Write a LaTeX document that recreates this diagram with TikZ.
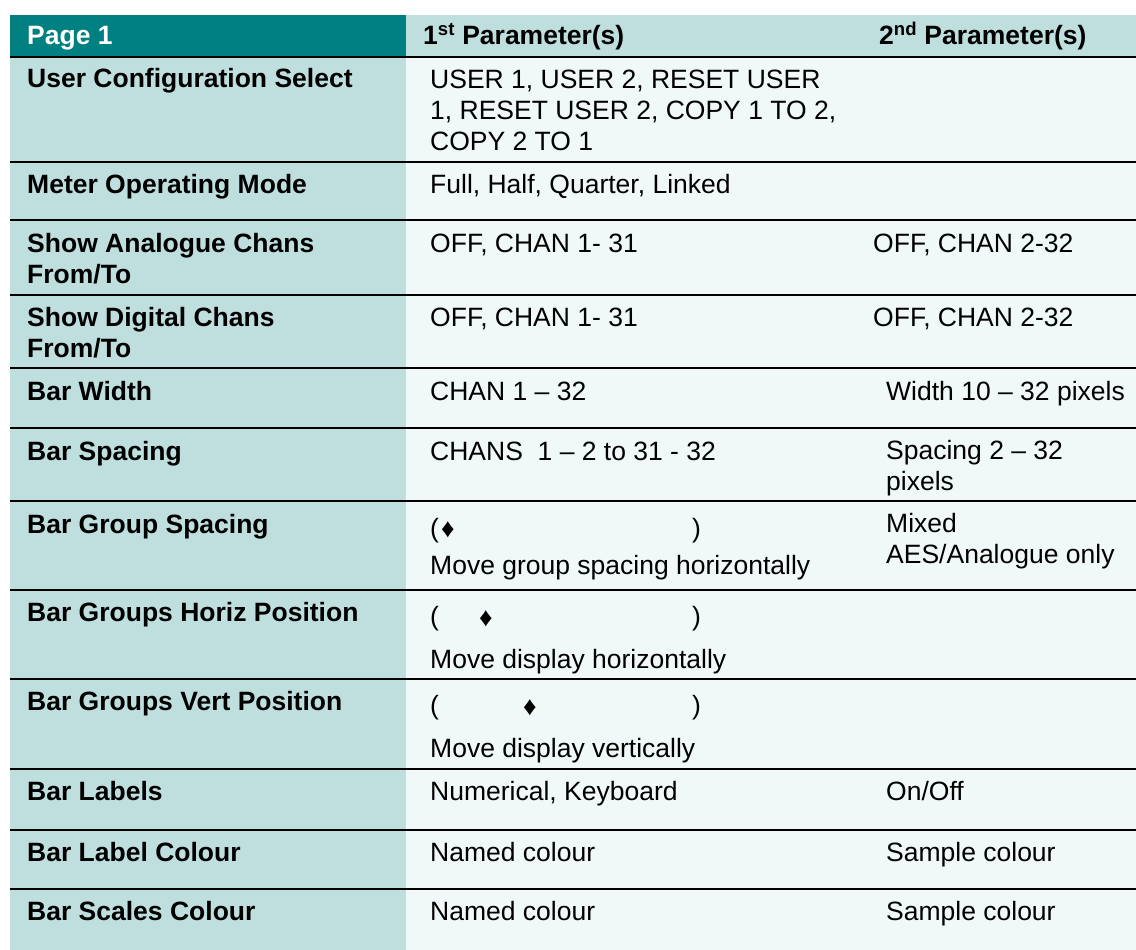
\documentclass[tikz,border=0pt]{standalone}
\usepackage{fontspec}
\setmainfont{Liberation Sans}
\definecolor{headteal}{RGB}{0,128,128}
\definecolor{lightteal}{RGB}{191,223,223}
\definecolor{paleteal}{RGB}{240,248,248}

\begin{document}
\begin{tikzpicture}[x=1pt,y=-1pt,
    every node/.style={inner sep=0pt,anchor=base west,font=\fontsize{26.5}{31}\selectfont},
    lbl/.style={font=\fontsize{26.5}{31}\selectfont\bfseries,align=left},
    val/.style={align=left},
    dmd/.style={anchor=center}]
    \useasboundingbox (0,0) rectangle (1136,950);
    \fill[headteal] (10,15) rectangle (406,57);
    \fill[lightteal] (406,15) rectangle (1136,57);
    \fill[lightteal] (10,57) rectangle (406,950);
    \fill[paleteal] (406,57) rectangle (1136,950);
    \draw[line width=2pt] (10,57) -- (1136,57);
    \foreach \y in {162,220,295,368,428,501,590,679,769,830,889}
        \draw[line width=1.5pt] (10,\y) -- (1136,\y);

    \node[lbl,text=white] (page) at (27,45) {Page 1};
    \node[lbl] (first) at (423,45) {1\textsuperscript{st} Parameter(s)};
    \node[lbl] (second) at (879,45) {2\textsuperscript{nd} Parameter(s)};

    % multi-line nodes sit on the baseline of their last line
    \node[lbl] (cfg) at (27,88) {User Configuration Select};
    \node[val] (cfgval) at (430,150) {USER 1, USER 2, RESET USER\\1, RESET USER 2, COPY 1 TO 2,\\COPY 2 TO 1};

    \node[lbl] (meter) at (27,193) {Meter Operating Mode};
    \node (meterval) at (430,193) {Full, Half, Quarter, Linked};

    \node[lbl] (ana) at (27,283) {Show Analogue Chans\\From/To};
    \node (anafrom) at (430,252) {OFF, CHAN 1- 31};
    \node (anato) at (873,252) {OFF, CHAN 2-32};

    \node[lbl] (dig) at (27,357) {Show Digital Chans\\From/To};
    \node (digfrom) at (430,326) {OFF, CHAN 1- 31};
    \node (digto) at (873,326) {OFF, CHAN 2-32};

    \node[lbl] (bwidth) at (27,400) {Bar Width};
    \node (bwidthch) at (430,400) {CHAN 1 – 32};
    \node (bwidthpx) at (886,400) {Width 10 – 32 pixels};

    \node[lbl] (bspace) at (27,460) {Bar Spacing};
    \node (bspacech) at (430,460) {CHANS\ \ 1 – 2 to 31 - 32};
    \node[val] (bspacepx) at (886,490) {Spacing 2 – 32\\pixels};

    % slider rows: brackets with the marker between them
    \node[lbl] (gspace) at (27,533) {Bar Group Spacing};
    \node (gspacel) at (430,537) {(};
    \node[dmd] (gspacem) at (448,530) {♦};
    \node (gspacer) at (692,537) {)};
    \node (gspacetxt) at (430,574) {Move group spacing horizontally};
    \node[val] (gspacemix) at (886,563) {Mixed\\AES/Analogue only};

    \node[lbl] (hpos) at (27,621) {Bar Groups Horiz Position};
    \node (hposl) at (430,625) {(};
    \node[dmd] (hposm) at (486,619) {♦};
    \node (hposr) at (692,625) {)};
    \node (hpostxt) at (430,668) {Move display horizontally};

    \node[lbl] (vpos) at (27,710) {Bar Groups Vert Position};
    \node (vposl) at (430,714) {(};
    \node[dmd] (vposm) at (530,708) {♦};
    \node (vposr) at (692,714) {)};
    \node (vpostxt) at (430,757) {Move display vertically};

    \node[lbl] (blabels) at (27,800) {Bar Labels};
    \node (blabelsval) at (430,800) {Numerical, Keyboard};
    \node (blabelson) at (886,800) {On/Off};

    \node[lbl] (lcol) at (27,861) {Bar Label Colour};
    \node (lcolname) at (430,861) {Named colour};
    \node (lcolsample) at (886,861) {Sample colour};

    \node[lbl] (scol) at (27,920) {Bar Scales Colour};
    \node (scolname) at (430,920) {Named colour};
    \node (scolsample) at (886,920) {Sample colour};
\end{tikzpicture}
\end{document}
